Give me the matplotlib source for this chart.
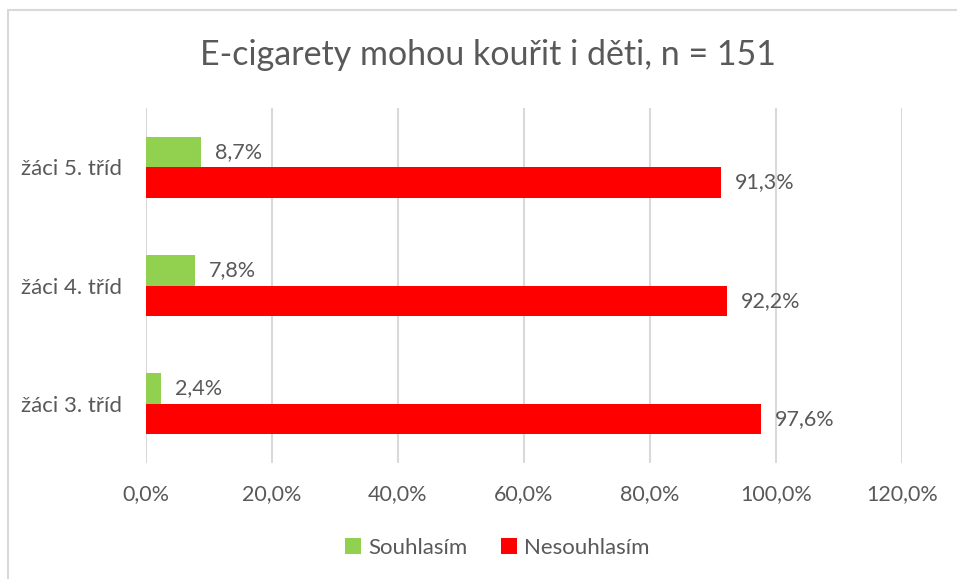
import matplotlib.pyplot as plt
from matplotlib.patches import Rectangle
from matplotlib.ticker import FuncFormatter
import numpy as np

plt.rcParams['font.family'] = ['Lato', 'DejaVu Sans']

title = "E-cigarety mohou kouřit i děti, n = 151"
categories = ["žáci 3. tříd", "žáci 4. tříd", "žáci 5. tříd"]
series_names = ["Souhlasím", "Nesouhlasím"]
souhlasim = [2.4, 7.8, 8.7]
nesouhlasim = [97.6, 92.2, 91.3]
x_ticks = [0, 20, 40, 60, 80, 100, 120]

green = "#92D050"
red = "#FF0000"
text_col = "#595959"
grid_col = "#D9D9D9"

W, H = 957, 579
fig = plt.figure(figsize=(W / 100, H / 100), dpi=100)
ax = fig.add_axes([146 / W, 1 - 463 / H, (902 - 146) / W, (463 - 108) / H])

# light frame of the chart area (right and bottom edges are cropped off)
fig.patches.append(Rectangle((8 / W, -0.1), 1.2, 1 - 10 / H + 0.1,
                             transform=fig.transFigure, fill=False,
                             edgecolor=grid_col, linewidth=1.5))

y = np.arange(len(categories))
h = 0.258
bars_g = ax.barh(y + h / 2, souhlasim, height=h, color=green, label=series_names[0], zorder=3)
bars_r = ax.barh(y - h / 2, nesouhlasim, height=h, color=red, label=series_names[1], zorder=3)

for bars in (bars_g, bars_r):
    for b in bars:
        v = b.get_width()
        ax.annotate(f"{v:.1f}%".replace(".", ","),
                    (v, b.get_y() + b.get_height() / 2),
                    xytext=(10, 0), textcoords="offset points",
                    va="center", ha="left", fontsize=15.5, color=text_col)

ax.set_xlim(0, 120)
ax.set_ylim(-0.5, len(categories) - 0.5)
ax.set_xticks(x_ticks)
ax.xaxis.set_major_formatter(FuncFormatter(lambda v, p: f"{v:.1f}%".replace(".", ",")))
ax.set_yticks(y)
ax.set_yticklabels(categories)
ax.tick_params(axis="x", length=0, labelsize=15.5, labelcolor=text_col, pad=15)
ax.tick_params(axis="y", length=0, labelsize=16, labelcolor=text_col, pad=17)
ax.grid(axis="x", color=grid_col, linewidth=1.5, zorder=0)
for s in ax.spines.values():
    s.set_visible(False)

fig.text(488 / W, 1 - 55 / H, title, ha="center", va="center",
         fontsize=24.5, color=text_col)

ax.legend(loc="center", bbox_to_anchor=(497 / W, 1 - 548 / H),
          bbox_transform=fig.transFigure, ncol=2, frameon=False,
          fontsize=16, labelcolor=text_col, handlelength=0.75,
          handleheight=0.75, handletextpad=0.3, columnspacing=1.5)

fig.savefig("out.png", dpi=100)
